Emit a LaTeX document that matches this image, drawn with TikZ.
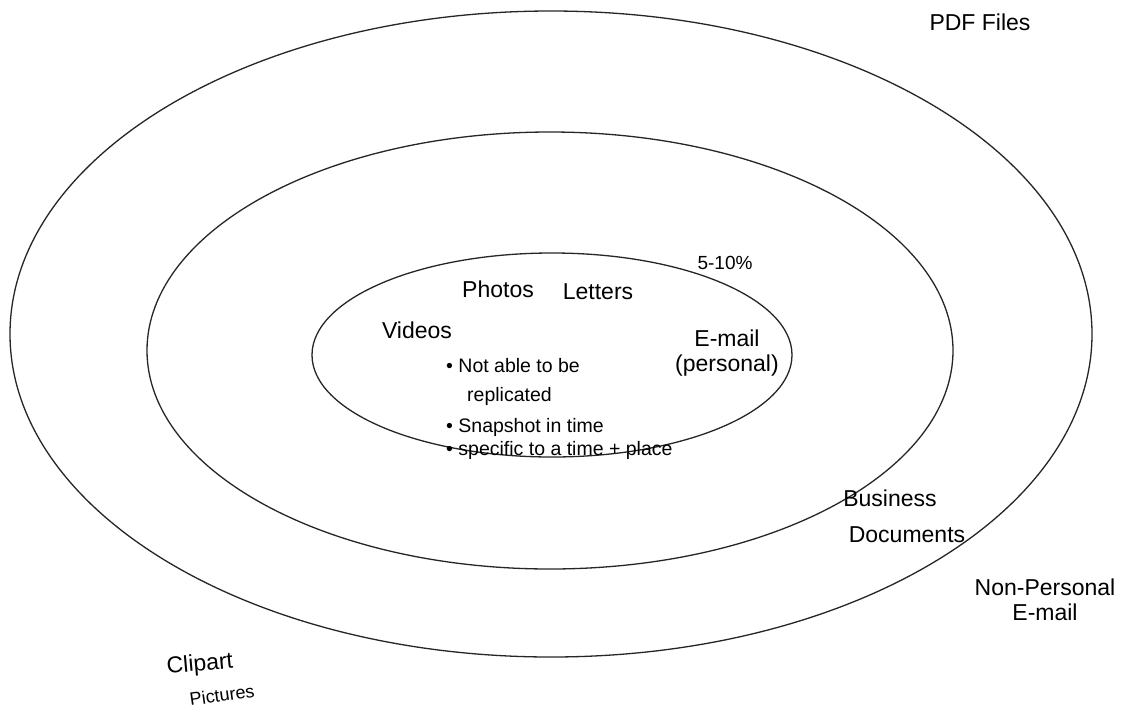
\documentclass[tikz,border=0pt]{standalone}
\usepackage{fontspec}
\setmainfont{Liberation Sans}
\begin{document}
\begin{tikzpicture}[x=1pt,y=-1pt,
  ring/.style={draw=black!85,line width=1.3pt},
  lbl/.style={inner sep=0pt,font=\fontsize{23}{25}\selectfont},
  blt/.style={inner sep=0pt,anchor=west,font=\fontsize{19.5}{21}\selectfont}]
\useasboundingbox[fill=white] (0,0) rectangle (1124,721);
% rings
\draw[ring] (551,334) ellipse [x radius=541pt, y radius=323pt];
\draw[ring] (550,350.5) ellipse [x radius=403pt, y radius=218.5pt];
\draw[ring] (552,355) ellipse [x radius=240pt, y radius=102pt];
% outer ring labels
\node[lbl] (pdf) at (980,22) {PDF Files};
\node[lbl,align=center] (nonp) at (1045,600) {Non-Personal\\E-mail};
\node[lbl,rotate=5] (clip) at (200,665) {Clipart};
\node[lbl,rotate=8,font=\fontsize{18}{20}\selectfont] (pict) at (222,695) {Pictures};
% middle ring labels
\node[lbl] (bus) at (890,498) {Business};
\node[lbl] (docs) at (907,535) {Documents};
% inner labels
\node[lbl,font=\fontsize{19}{21}\selectfont] (pct) at (725,263) {5-10\%};
\node[lbl] (photos) at (498,289) {Photos};
\node[lbl] (letters) at (598,292) {Letters};
\node[lbl] (videos) at (417,330) {Videos};
\node[lbl,align=center] (email) at (727,353) {E-mail\\(personal)};
\node[blt] (b1) at (446,366) {\textbullet\ Not able to be};
\node[blt] (b1b) at (467,396) {replicated};
\node[blt] (b2) at (446,427) {\textbullet\ Snapshot in time};
\node[blt] (b3) at (446,450) {\textbullet\ specific to a time + place};
\end{tikzpicture}
\end{document}
